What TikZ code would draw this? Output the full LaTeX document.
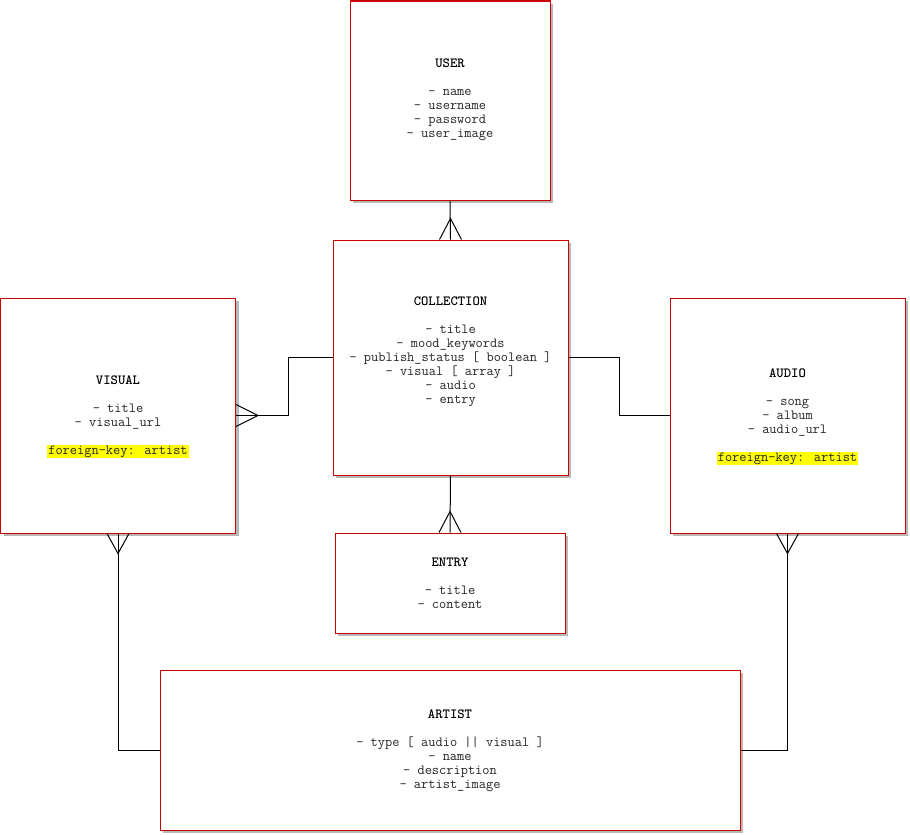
\documentclass[tikz,border=0pt]{standalone}
\usepackage{fontspec}
\usetikzlibrary{shadows,calc}
\definecolor{erred}{RGB}{204,0,0}
\definecolor{hl}{RGB}{255,255,0}
\setlength{\fboxsep}{1pt}
\tikzset{
  entity/.style={draw=erred, line width=1pt, fill=white, rectangle, inner sep=0pt,
    drop shadow={shadow xshift=3pt, shadow yshift=-3pt, fill=black!28, opacity=1}},
  etext/.style={align=center, font=\fontsize{14}{14}\selectfont\ttfamily, inner sep=0pt, text=black!85},
  link/.style={draw=black, line width=1pt},
}
\begin{document}
\begin{tikzpicture}[x=1pt,y=-1pt]
\useasboundingbox (0,0) rectangle (910,835);
% entities
\node[entity, minimum width=200pt, minimum height=199pt] (user) at (450,100.5) {};
\node[entity, minimum width=235pt, minimum height=235pt] (collection) at (450.5,357.5) {};
\node[entity, minimum width=235pt, minimum height=235pt] (visual) at (118,415.5) {};
\node[entity, minimum width=235pt, minimum height=235pt] (audio) at (787.5,415.5) {};
\node[entity, minimum width=230pt, minimum height=100pt] (entry) at (450,583) {};
\node[entity, minimum width=580pt, minimum height=160pt] (artist) at (450,750) {};
% texts
\node[etext] (userT) at (450,100) {\textbf{\color{black}USER}\\[14pt]- name\\- username\\- password\\- user\_image};
\node[etext] (collectionT) at (450.5,351.5) {\textbf{\color{black}COLLECTION}\\[14pt]- title\\- mood\_keywords\\- publish\_status [ boolean ]\\- visual [ array ]\\- audio\\- entry};
\node[etext] (visualT) at (118,417) {\textbf{\color{black}VISUAL}\\[14pt]- title\\- visual\_url\\[14pt]\colorbox{hl}{foreign-key: artist}};
\node[etext] (audioT) at (787.5,417) {\textbf{\color{black}AUDIO}\\[14pt]- song\\- album\\- audio\_url\\[14pt]\colorbox{hl}{foreign-key: artist}};
\node[etext] (entryT) at (450,583.5) {\textbf{\color{black}ENTRY}\\[14pt]- title\\- content};
\node[etext] (artistT) at (450,750.5) {\textbf{\color{black}ARTIST}\\[14pt]- type [ audio || visual ]\\- name\\- description\\- artist\_image};
% connectors
\draw[link] (user.south) -- (collection.north);
\draw[link] (collection.west) -- ++(-44,0) |- (visual.east);
\draw[link] (collection.east) -- ++(51,0) |- (audio.west);
\draw[link] (collection.south) -- (entry.north);
\draw[link] (visual.south) |- (artist.west);
\draw[link] (audio.south) |- (artist.east);
% crow's feet
\draw[link] ($(collection.north)+(-11,0)$) -- ($(collection.north)+(0,-21)$) -- ($(collection.north)+(11,0)$);
\draw[link] ($(entry.north)+(-11,0)$) -- ($(entry.north)+(0,-21)$) -- ($(entry.north)+(11,0)$);
\draw[link] ($(visual.east)+(0,-11)$) -- ($(visual.east)+(22,0)$) -- ($(visual.east)+(0,11)$);
\draw[link] ($(visual.south)+(-11,0)$) -- ($(visual.south)+(0,20)$) -- ($(visual.south)+(11,0)$);
\draw[link] ($(audio.south)+(-11,0)$) -- ($(audio.south)+(0,20)$) -- ($(audio.south)+(11,0)$);
\end{tikzpicture}
\end{document}
